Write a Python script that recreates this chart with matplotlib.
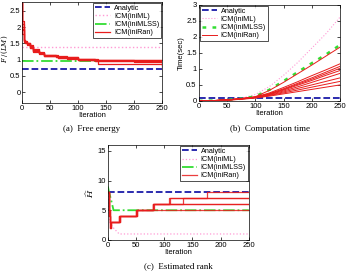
import matplotlib
matplotlib.use('Agg')
import matplotlib.pyplot as plt

# ---- data ----
# (a) free energy F/(LM)
fe_analytic = 0.72
fe_iniml = 1.38
fe_inimlss = 0.97
fe_x = [0, 1, 3, 5, 10, 15, 20, 30, 40, 60, 65, 80, 100, 130, 135, 200, 250]
fe_runs = [
    [2.75, 2.0, 1.6, 1.55, 1.52, 1.42, 1.3, 1.22, 1.14, 1.12, 1.09, 1.07, 1.02, 1.0, 1.0, 1.0, 1.0],
    [2.75, 1.9, 1.58, 1.52, 1.48, 1.38, 1.27, 1.2, 1.12, 1.1, 1.08, 1.05, 1.01, 0.99, 0.98, 0.98, 0.98],
    [2.75, 2.2, 1.62, 1.56, 1.5, 1.4, 1.28, 1.21, 1.13, 1.11, 1.07, 1.06, 1.0, 0.97, 0.88, 0.88, 0.88],
    [2.75, 1.8, 1.55, 1.5, 1.46, 1.36, 1.25, 1.19, 1.11, 1.09, 1.06, 1.04, 1.0, 0.98, 0.97, 0.95, 0.70],
    [2.75, 2.1, 1.6, 1.54, 1.5, 1.44, 1.32, 1.24, 1.15, 1.13, 1.1, 1.08, 1.03, 1.01, 1.0, 0.92, 0.85],
    [2.75, 1.95, 1.57, 1.53, 1.47, 1.37, 1.26, 1.18, 1.1, 1.08, 1.05, 1.03, 0.99, 0.97, 0.96, 0.96, 0.96],
]

# (b) computation time [sec]
ct_x = [0, 25, 50, 75, 100, 125, 150, 175, 200, 225, 250]
ct_analytic = 0.1
ct_iniml = [0.0, 0.01, 0.03, 0.08, 0.2, 0.45, 0.8, 1.2, 1.65, 2.1, 2.62]
ct_inimlss = [0.0, 0.01, 0.03, 0.07, 0.14, 0.35, 0.62, 0.9, 1.18, 1.45, 1.75]
ct_runs = [
    [0.0, 0.01, 0.03, 0.07, 0.13, 0.33, 0.58, 0.85, 1.12, 1.4, 1.68],
    [0.0, 0.01, 0.03, 0.07, 0.12, 0.25, 0.42, 0.6, 0.79, 0.97, 1.16],
    [0.0, 0.01, 0.03, 0.07, 0.12, 0.23, 0.38, 0.55, 0.72, 0.9, 1.08],
    [0.0, 0.01, 0.03, 0.07, 0.12, 0.22, 0.36, 0.52, 0.68, 0.85, 1.02],
    [0.0, 0.01, 0.03, 0.07, 0.11, 0.21, 0.34, 0.49, 0.64, 0.8, 0.95],
    [0.0, 0.01, 0.03, 0.06, 0.11, 0.2, 0.31, 0.44, 0.58, 0.72, 0.86],
    [0.0, 0.01, 0.03, 0.06, 0.1, 0.18, 0.28, 0.39, 0.5, 0.61, 0.72],
    [0.0, 0.01, 0.02, 0.06, 0.1, 0.17, 0.25, 0.34, 0.43, 0.52, 0.61],
    [0.0, 0.01, 0.02, 0.05, 0.09, 0.15, 0.22, 0.29, 0.36, 0.43, 0.5],
]

# (c) estimated rank (step changes)
rk_analytic = 8
rk_iniml_x = [0, 3, 6, 10, 15, 20, 250]
rk_iniml = [8, 3, 2.5, 2, 1.5, 1, 1]
rk_inimlss_x = [0, 2, 5, 10, 250]
rk_inimlss = [9, 8, 7, 5, 5]
rk_runs_x = [
    [0, 2, 3, 6, 20, 50, 80, 110, 175, 250],
    [0, 2, 4, 6, 22, 52, 80, 108, 250],
    [0, 2, 3, 6, 20, 52, 80, 133, 250],
    [0, 2, 4, 6, 21, 50, 80, 250],
    [0, 2, 3, 6, 20, 50, 81, 250],
    [0, 2, 4, 6, 22, 51, 250],
]
rk_runs = [
    [8, 4, 2, 3, 4, 5, 6, 7, 8, 8],
    [8, 5, 3, 3, 4, 5, 6, 7, 7],
    [8, 4, 2, 3, 4, 5, 6, 7, 7],
    [8, 5, 3, 3, 4, 5, 6, 6],
    [8, 4, 2, 3, 4, 5, 6, 6],
    [8, 5, 3, 3, 4, 5, 5],
]

# ---- styles ----
blue = '#1a1aa8'
pink = '#ff9ad5'
green = '#33dd33'
red = '#e81c1c'
plt.rcParams['font.family'] = ['Liberation Sans', 'DejaVu Sans']
plt.rcParams['font.size'] = 5.5
plt.rcParams['axes.linewidth'] = 0.5
plt.rcParams['xtick.major.width'] = 0.5
plt.rcParams['ytick.major.width'] = 0.5
plt.rcParams['xtick.major.size'] = 2
plt.rcParams['ytick.major.size'] = 2
plt.rcParams['xtick.direction'] = 'in'
plt.rcParams['ytick.direction'] = 'in'
plt.rcParams['xtick.top'] = True
plt.rcParams['ytick.right'] = True
plt.rcParams['mathtext.fontset'] = 'dejavuserif'

fig = plt.figure(figsize=(3.47, 2.72), dpi=100)
ax0 = fig.add_axes([0.063, 0.622, 0.404, 0.371])
ax1 = fig.add_axes([0.573, 0.629, 0.407, 0.353])
ax2 = fig.add_axes([0.311, 0.118, 0.406, 0.349])

labels = ['Analytic', 'ICM(iniML)', 'ICM(iniMLSS)', 'ICM(iniRan)']

def style(ax):
    ax.set_xlim(0, 250)
    ax.set_xticks([0, 50, 100, 150, 200, 250])
    ax.tick_params(labelsize=5.5, pad=1.5)
    ax.set_xlabel('Iteration', fontsize=5.5, labelpad=0)

def legend(ax, loc):
    lg = ax.legend(loc=loc, fontsize=5.2, frameon=True, fancybox=False,
                   handlelength=2.1, handletextpad=0.5, labelspacing=0.15,
                   borderpad=0.25, borderaxespad=0.15)
    lg.get_frame().set_edgecolor('black')
    lg.get_frame().set_linewidth(0.6)

# (a)
ax0.axhline(fe_analytic, color=blue, ls='--', lw=1.3, label=labels[0])
ax0.axhline(fe_iniml, color=pink, ls=':', lw=1.0, label=labels[1])
ax0.axhline(fe_inimlss, color=green, ls='-.', lw=1.3, label=labels[2])
for i, r in enumerate(fe_runs):
    ax0.plot(fe_x, r, color=red, lw=0.9, drawstyle='steps-post',
             label=labels[3] if i == 0 else None)
ax0.set_ylim(-0.33, 2.78)
ax0.set_yticks([0, 0.5, 1, 1.5, 2, 2.5])
ax0.set_yticklabels(['0', '0.5', '1', '1.5', '2', '2.5'])
ax0.set_ylabel('$F\\,/\\,(LM)$', fontsize=5.0, labelpad=0)
style(ax0)
ax0.tick_params(axis='y', pad=1)
ax0.yaxis.set_label_coords(-0.083, 0.53)
legend(ax0, 'upper right')

# (b)
ax1.axhline(ct_analytic, color=blue, ls='--', lw=1.3, label=labels[0])
ax1.plot(ct_x, ct_iniml, color=pink, ls=':', lw=0.8, label=labels[1])
ax1.plot(ct_x, ct_inimlss, color=green, ls=(0, (1.5, 2.5)), lw=1.8, label=labels[2])
for i, r in enumerate(ct_runs):
    ax1.plot(ct_x, r, color=red, lw=0.7,
             label=labels[3] if i == 0 else None)
ax1.set_ylim(0, 3)
ax1.set_yticks([0, 0.5, 1, 1.5, 2, 2.5, 3])
ax1.set_yticklabels(['0', '0.5', '1', '1.5', '2', '2.5', '3'])
ax1.set_ylabel('Time(sec)', fontsize=5.5, labelpad=1)
style(ax1)
legend(ax1, 'upper left')

# (c)
ax2.axhline(rk_analytic, color=blue, ls='--', lw=1.3, label=labels[0])
ax2.plot(rk_iniml_x, rk_iniml, color=pink, ls=':', lw=0.9, label=labels[1])
ax2.plot(rk_inimlss_x, rk_inimlss, color=green, ls='-.', lw=1.3, label=labels[2])
for i, (xs, r) in enumerate(zip(rk_runs_x, rk_runs)):
    ax2.plot(xs, r, color=red, lw=0.9, drawstyle='steps-post', alpha=0.85,
             label=labels[3] if i == 0 else None)
ax2.set_ylim(0, 16)
ax2.set_yticks([0, 5, 10, 15])
ax2.set_ylabel('$\\widehat{H}$', fontsize=6, labelpad=1)
style(ax2)
legend(ax2, 'upper right')

cap = dict(fontsize=6.5, family=['Liberation Serif', 'DejaVu Serif'], ha='center')
fig.text(0.265, 0.52, '(a)  Free energy', **cap)
fig.text(0.777, 0.52, '(b)  Computation time', **cap)
fig.text(0.514, 0.015, '(c)  Estimated rank', **cap)

fig.savefig('out.png', dpi=100)
